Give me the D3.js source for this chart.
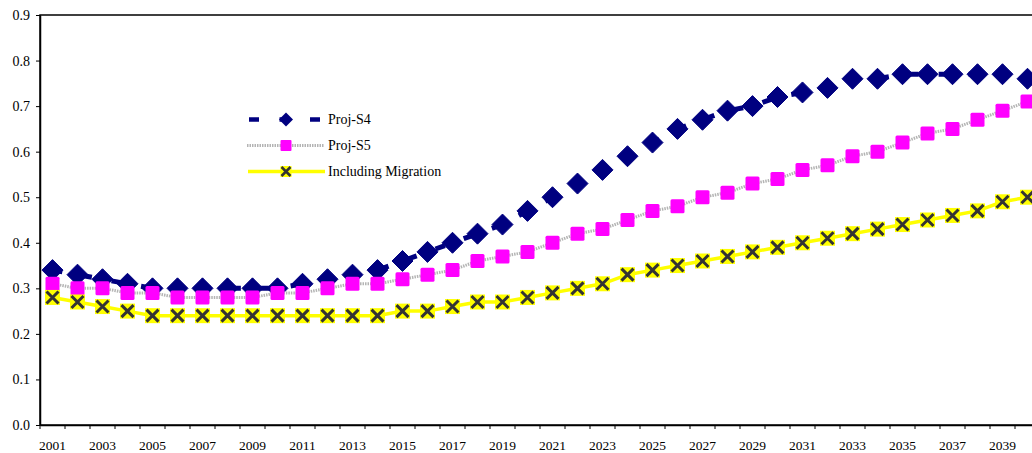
<!DOCTYPE html>
<html>
<head>
<meta charset="utf-8">
<script src="https://cdn.jsdelivr.net/npm/d3@7"></script>
<style>
  html, body { margin: 0; padding: 0; background: #fff; }
  svg { display: block; }
</style>
</head>
<body>
<svg id="chart" width="1032" height="453"></svg>
<script>
const years = d3.range(2001, 2041).map(String);
const xTickLabels = years.filter((d, i) => i % 2 === 0);
const yTicks = [0, 0.1, 0.2, 0.3, 0.4, 0.5, 0.6, 0.7, 0.8, 0.9];

const projS4 = [0.34, 0.33, 0.32, 0.31, 0.30, 0.30, 0.30, 0.30, 0.30, 0.30,
                0.31, 0.32, 0.33, 0.34, 0.36, 0.38, 0.40, 0.42, 0.44, 0.47,
                0.50, 0.53, 0.56, 0.59, 0.62, 0.65, 0.67, 0.69, 0.70, 0.72,
                0.73, 0.74, 0.76, 0.76, 0.77, 0.77, 0.77, 0.77, 0.77, 0.76];
const projS5 = [0.31, 0.30, 0.30, 0.29, 0.29, 0.28, 0.28, 0.28, 0.28, 0.29,
                0.29, 0.30, 0.31, 0.31, 0.32, 0.33, 0.34, 0.36, 0.37, 0.38,
                0.40, 0.42, 0.43, 0.45, 0.47, 0.48, 0.50, 0.51, 0.53, 0.54,
                0.56, 0.57, 0.59, 0.60, 0.62, 0.64, 0.65, 0.67, 0.69, 0.71];
const migration = [0.28, 0.27, 0.26, 0.25, 0.24, 0.24, 0.24, 0.24, 0.24, 0.24,
                   0.24, 0.24, 0.24, 0.24, 0.25, 0.25, 0.26, 0.27, 0.27, 0.28,
                   0.29, 0.30, 0.31, 0.33, 0.34, 0.35, 0.36, 0.37, 0.38, 0.39,
                   0.40, 0.41, 0.42, 0.43, 0.44, 0.45, 0.46, 0.47, 0.49, 0.50];
const seriesNames = ["Proj-S4", "Proj-S5", "Including Migration"];

const FONT = "'Liberation Serif', 'Times New Roman', Times, serif";
const svg = d3.select("#chart");
const M = { left: 40, right: 1040, top: 15, bottom: 425 };

const x = d3.scaleBand().domain(years).range([M.left, M.right]).padding(0);
const y = d3.scaleLinear().domain([0, 0.9]).range([M.bottom, M.top]);

// plot border
svg.append("rect")
  .attr("x", M.left).attr("y", M.top)
  .attr("width", M.right - M.left).attr("height", M.bottom - M.top)
  .attr("fill", "none").attr("stroke", "#000").attr("stroke-width", 1.5);

// Y axis
const yAxis = svg.append("g")
  .attr("transform", `translate(${M.left},0)`)
  .call(d3.axisLeft(y).tickValues(yTicks).tickFormat(d3.format(".1f"))
        .tickSizeInner(4).tickSizeOuter(0).tickPadding(6));
yAxis.attr("font-family", null).attr("font-size", null);
yAxis.select(".domain").attr("stroke", "#000").attr("stroke-width", 1.5);
yAxis.selectAll(".tick line").attr("stroke", "#000").attr("stroke-width", 1);
yAxis.selectAll("text").style("font-family", FONT).style("font-size", "14px").attr("fill", "#000");

// X axis labels
const xAxis = svg.append("g")
  .attr("transform", `translate(0,${M.bottom})`)
  .call(d3.axisBottom(x).tickValues(xTickLabels)
        .tickSizeInner(0).tickSizeOuter(0).tickPadding(15));
xAxis.attr("font-family", null).attr("font-size", null);
xAxis.select(".domain").attr("stroke", "#000").attr("stroke-width", 1.5);
xAxis.selectAll("text").style("font-family", FONT).style("font-size", "13.5px").attr("fill", "#000");

// X tick marks at category boundaries
const boundaries = years.map(d => x(d)).concat([x(years[years.length - 1]) + x.bandwidth()]);
svg.append("g").selectAll("line").data(boundaries).join("line")
  .attr("x1", d => d).attr("x2", d => d)
  .attr("y1", M.bottom).attr("y2", M.bottom + 4)
  .attr("stroke", "#000").attr("stroke-width", 1);

const cx = (d, i) => x(years[i]) + x.bandwidth() / 2;
const line = d3.line().x((d, i) => cx(d, i)).y(d => y(d));

const plot = svg.append("g");

// Proj-S4
plot.append("path").datum(projS4)
  .attr("d", line).attr("fill", "none")
  .attr("stroke", "#000080").attr("stroke-width", 5)
  .attr("stroke-dasharray", "10,20");
const diamond = s => `M0,${-s}L${s},0L0,${s}L${-s},0Z`;
plot.append("g").selectAll("path").data(projS4).join("path")
  .attr("transform", (d, i) => `translate(${cx(d, i)},${y(d)})`)
  .attr("d", diamond(10.5))
  .attr("fill", "#000080").attr("stroke", "#000080").attr("stroke-width", 1)
  .attr("stroke-linejoin", "round");

// Proj-S5
plot.append("path").datum(projS5)
  .attr("d", line).attr("fill", "none")
  .attr("stroke", "#b4b4b4").attr("stroke-width", 3)
  .attr("stroke-dasharray", "1.5,1");
plot.append("g").selectAll("rect").data(projS5).join("rect")
  .attr("x", (d, i) => cx(d, i) - 7).attr("y", d => y(d) - 7)
  .attr("width", 14).attr("height", 14).attr("rx", 1.5)
  .attr("fill", "#ff00ff");

// Including Migration
plot.append("path").datum(migration)
  .attr("d", line).attr("fill", "none")
  .attr("stroke", "#ffff00").attr("stroke-width", 3.5);
const mg = plot.append("g").selectAll("g").data(migration).join("g")
  .attr("transform", (d, i) => `translate(${cx(d, i)},${y(d)})`);
mg.append("rect").attr("x", -7.5).attr("y", -7.5).attr("width", 15).attr("height", 15)
  .attr("fill", "#ffff00");
mg.append("path").attr("d", "M-6,-6L6,6M-6,6L6,-6")
  .attr("stroke", "#333333").attr("stroke-width", 3).attr("fill", "none");

// Legend
const legend = svg.append("g");
const rows = [119.5, 145.5, 171.5];
const mx = 286, tx = 328;
// S4
legend.append("line").attr("x1", 249).attr("x2", 322).attr("y1", rows[0]).attr("y2", rows[0])
  .attr("stroke", "#000080").attr("stroke-width", 4.5).attr("stroke-dasharray", "10,20.5");
legend.append("path").attr("transform", `translate(${mx},${rows[0]})`)
  .attr("d", diamond(7)).attr("fill", "#000080");
// S5
legend.append("line").attr("x1", 247).attr("x2", 324).attr("y1", rows[1]).attr("y2", rows[1])
  .attr("stroke", "#b4b4b4").attr("stroke-width", 3).attr("stroke-dasharray", "1.5,1");
legend.append("rect").attr("x", mx - 5.5).attr("y", rows[1] - 5.5).attr("width", 11).attr("height", 11)
  .attr("rx", 1).attr("fill", "#ff00ff");
// Migration
legend.append("line").attr("x1", 248).attr("x2", 325).attr("y1", rows[2]).attr("y2", rows[2])
  .attr("stroke", "#ffff00").attr("stroke-width", 3.5);
legend.append("rect").attr("x", mx - 5.5).attr("y", rows[2] - 5.5).attr("width", 11).attr("height", 11)
  .attr("fill", "#ffff00");
legend.append("path").attr("transform", `translate(${mx},${rows[2]})`)
  .attr("d", "M-4.5,-4.5L4.5,4.5M-4.5,4.5L4.5,-4.5")
  .attr("stroke", "#333333").attr("stroke-width", 2.5);

legend.selectAll("text.lbl").data(seriesNames).join("text")
  .attr("class", "lbl")
  .attr("x", tx).attr("y", (d, i) => rows[i] + 4.5)
  .style("font-family", FONT)
  .style("font-size", "14px")
  .attr("fill", "#000")
  .text(d => d);
</script>
</body>
</html>
